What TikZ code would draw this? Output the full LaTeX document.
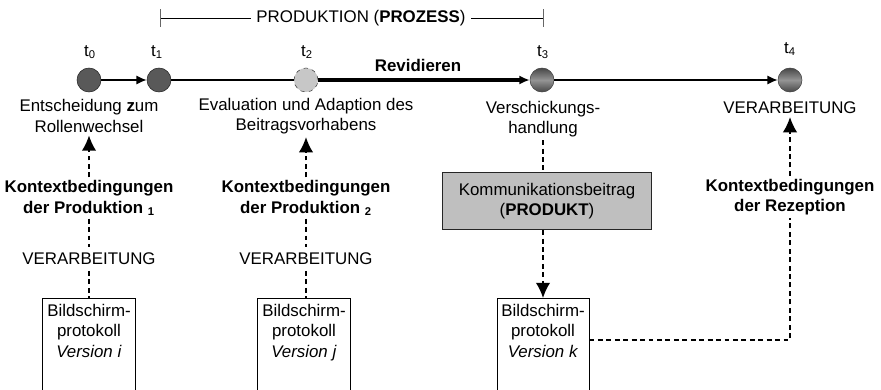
\documentclass[tikz,border=0pt,12pt]{standalone}
\usepackage{fontspec}
\setmainfont{Liberation Sans}
\usetikzlibrary{arrows.meta}
\tikzset{
  {zeitpunkt/.style} ={circle,draw=black!85,fill=black!65,inner sep=0,minimum size=6mm},
  {offen/.style} ={zeitpunkt,dashed,draw=black!75,fill=black!22},
  {kugel/.style} ={zeitpunkt,draw=black!70,top color=black!72,bottom color=black!72,middle color=black!42},
  {zeitmarke/.style} ={inner sep=1pt},
  {ereignis/.style} ={align=center,inner sep=2pt},
  {kontext/.style} ={align=center,font=\bfseries,inner sep=2pt},
  {produkt/.style} ={rectangle,draw=black!85,line width=0.9pt,fill=black!25,align=center,
                minimum width=5.225cm,minimum height=1.425cm},
  {protokoll/.style} ={rectangle,draw,line width=0.7pt,anchor=north,
                minimum width=2.3cm,minimum height=2.325cm},
  {protokolltext/.style} ={align=center,anchor=north,inner sep=1.5mm},
  {achse/.style} ={line width=1.1pt},
  {revision/.style} ={line width=2.8pt},
  {klammer/.style} ={line width=0.6pt},
  {bedingung/.style} ={line width=1.1pt,dash pattern=on 3.5pt off 2.5pt},
  {pfeil/.style} ={-{Latex[length=2.6mm,width=2.3mm]}},
  {grosser pfeil/.style} ={-{Latex[length=3.8mm,width=3.6mm]}},
}
\begin{document}
\begin{tikzpicture}[x=0.025cm,y=-0.025cm]
    \useasboundingbox (0,0) rectangle (881,389);
    % Produktion (Prozess)
    \node (prozess) at (361,18) {PRODUKTION (\textbf{PROZESS})};
    \coordinate (anfang) at (160,18);
    \coordinate (ende) at (543,18);
    \draw[klammer] (anfang) -- (prozess);
    \draw[klammer] (prozess) -- (ende);
    \draw[klammer,black!60] (anfang) +(0,-9) -- +(0,9);
    \draw[klammer,black!60] (ende) +(0,-9) -- +(0,9);
    % Zeitpunkte
    \node[zeitpunkt] (c0) at (89,80) {};
    \node[zeitpunkt] (c1) at (159,80) {};
    \node[offen] (c2) at (306,80) {};
    \node[kugel] (c3) at (542,80) {};
    \node[kugel] (c4) at (790,80) {};
    \node[zeitmarke] (t0) at (90,52) {t\textsubscript{0}};
    \node[zeitmarke] (t1) at (157,52) {t\textsubscript{1}};
    \node[zeitmarke] (t2) at (307,52) {t\textsubscript{2}};
    \node[zeitmarke] (t3) at (543,52) {t\textsubscript{3}};
    \node[zeitmarke] (t4) at (790,49) {t\textsubscript{4}};
    \draw[achse,pfeil] (c0) -- (c1);
    \draw[achse] (c1) -- (c2);
    \draw[revision,pfeil] (c2) -- (c3);
    \draw[achse,pfeil] (c3) -- (c4);
    \node[font=\bfseries] (revidieren) at (418,65) {Revidieren};
    \node[ereignis] (e0) at (89,116) {Entscheidung \textbf{z}um\\Rollenwechsel};
    \node[ereignis] (e2) at (306,116) {Evaluation und Adaption des\\Beitragsvorhabens};
    \node[ereignis] (e3) at (543,119) {Verschickungs-\\handlung};
    \node[ereignis] (e4) at (790,108) {VERARBEITUNG};
    % Kontextbedingungen
    \node[kontext] (k1) at (89,198) {Kontextbedingungen\\der Produktion \textsubscript{1}};
    \node[kontext] (k2) at (306,198) {Kontextbedingungen\\der Produktion \textsubscript{2}};
    \node[kontext] (k4) at (790,197) {Kontextbedingungen\\der Rezeption};
    \node (v1) at (89,259) {VERARBEITUNG};
    \node (v2) at (306,259) {VERARBEITUNG};
    \node[produkt] (beitrag) at (547,201) {Kommunikationsbeitrag\\(\textbf{PRODUKT})};
    % Bildschirmprotokolle
    \node[protokoll] (pi) at (89,298) {};
    \node[protokolltext] (ti) at (pi.north) {Bildschirm-\\protokoll\\\textit{Version i}};
    \node[protokoll] (pj) at (304,298) {};
    \node[protokolltext] (tj) at (pj.north) {Bildschirm-\\protokoll\\\textit{Version j}};
    \node[protokoll] (pk) at (543,298) {};
    \node[protokolltext] (tk) at (pk.north) {Bildschirm-\\protokoll\\\textit{Version k}};
    \coordinate (ecke) at (790,340);
    \draw[bedingung,grosser pfeil] (k1) -- (e0);
    \draw[bedingung] (k1) -- (v1);
    \draw[bedingung] (v1) -- (pi);
    \draw[bedingung,grosser pfeil] (k2) -- (e2);
    \draw[bedingung] (k2) -- (v2);
    \draw[bedingung] (v2) -- (v2 |- pj.north);
    \draw[bedingung] (e3) -- (e3 |- beitrag.north);
    \draw[bedingung,grosser pfeil] (beitrag.south -| pk.north) -- (pk.north);
    \draw[bedingung,grosser pfeil] (k4) -- (e4);
    \draw[bedingung] (ecke -| pk.east) -- (ecke) -- (k4);
\end{tikzpicture}
\end{document}
